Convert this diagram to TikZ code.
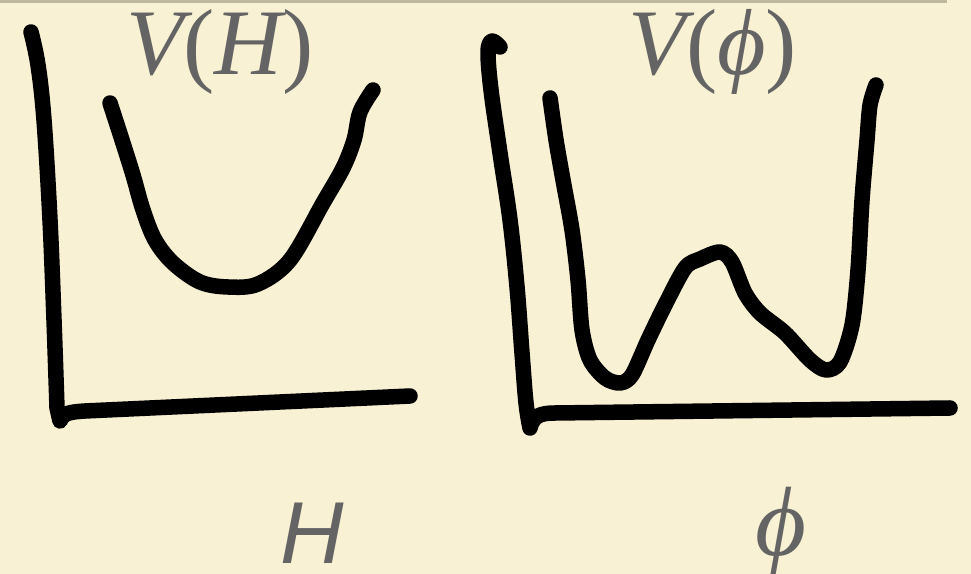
\documentclass[tikz,border=0pt]{standalone}
\usepackage{fontspec}
\setmainfont{Liberation Serif}
\newfontfamily\timesf{Liberation Serif}
\newfontfamily\sansH{Liberation Sans}
\definecolor{paper}{RGB}{249,241,211}
\definecolor{rulecol}{RGB}{190,184,158}
\definecolor{ink}{RGB}{100,100,100}
\begin{document}
\begin{tikzpicture}[x=0.01cm,y=-0.01cm,
  pen/.style={line width=0.155cm, line cap=round, line join=round, draw=black},
  lbl/.style={text=ink, inner sep=0pt, anchor=base, font=\fontsize{10}{12}\selectfont}]
\fill[paper] (0,0) rectangle (971,574);
\useasboundingbox (0,0) rectangle (971,574);
\fill[rulecol] (0,0) rectangle (947,3);

% left axes
\draw[pen] plot[smooth, tension=0.6] coordinates {(31,32) (38,65) (44,120) (50,220) (54,320) (57,408)}
  -- (60,421) .. controls (63,413) and (70,412) .. (85,411) -- (410,396);
% U curve
\draw[pen] plot[smooth, tension=0.55] coordinates {(110,103) (122,140) (133,175) (143,210) (155,240) (173,263) (200,282) (228,287) (258,284) (290,260) (323,203) (343,168) (354,140) (360,112) (373,90)};

% right axes
\draw[pen] plot[smooth, tension=0.6] coordinates {(500,47) (492,41) (488,52) (491,90) (500,153) (510,220) (517,287) (522,353) (526,403) (530,428)}
  .. controls (533,416) and (540,413) .. (555,413) -- (950,408);
% W curve
\draw[pen] plot[smooth, tension=0.5] coordinates {(550,98) (556,140) (563,180) (572,230) (578,280) (582,330) (590,360) (605,378) (620,383) (632,375) (648,340) (665,305) (685,268) (700,259) (720,252) (732,262) (745,293) (760,313) (785,333) (810,360) (826,370) (840,362) (852,325) (858,270) (862,200) (867,140) (870,105) (876,85)};

% labels
\node[lbl, scale=2.668] (vh) at (220,75) {\timesf\itshape V\upshape(\itshape H\upshape)};
\node[lbl, scale=2.668] (vp) at (713,75) {\timesf\itshape V\upshape(\itshape ϕ\upshape)};
\node[lbl, scale=2.5] (h) at (312,563) {\sansH\itshape H};
\node[lbl, scale=2.8] (p) at (781,555) {\timesf\itshape ϕ};
\end{tikzpicture}
\end{document}
